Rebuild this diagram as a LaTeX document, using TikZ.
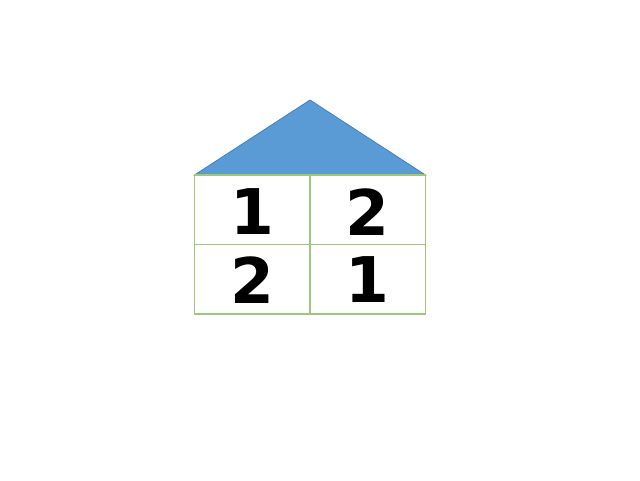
\documentclass[tikz,border=0pt]{standalone}
\usepackage{fontspec}
\setmainfont{DejaVu Sans}
\definecolor{roof}{RGB}{91,155,213}
\definecolor{roofline}{RGB}{80,125,170}
\definecolor{grid}{RGB}{155,200,125}
\begin{document}
\begin{tikzpicture}[x=1pt,y=-1pt,
  cellnum/.style={inner sep=0pt,font=\fontsize{63}{63}\selectfont\bfseries},
  gridline/.style={grid,line width=1.5pt}]
\useasboundingbox (0,0) rectangle (640,480);
\coordinate (apex) at (310,100);
\coordinate (bl) at (194.5,175);
\coordinate (br) at (425.5,175);
\filldraw[fill=roof,draw=roofline,line width=0.8pt,line join=miter] (bl) -- (apex) -- (br) -- cycle;
\draw[gridline] (194.5,175) rectangle (425.5,314);
\draw[gridline] (310,175) -- (310,314);
\draw[gridline] (194.5,244.5) -- (425.5,244.5);
\node[cellnum] (a) at (252,212) {1};
\node[cellnum] (b) at (367,212) {2};
\node[cellnum] (c) at (252,280) {2};
\node[cellnum] (d) at (367,280) {1};
\end{tikzpicture}
\end{document}
